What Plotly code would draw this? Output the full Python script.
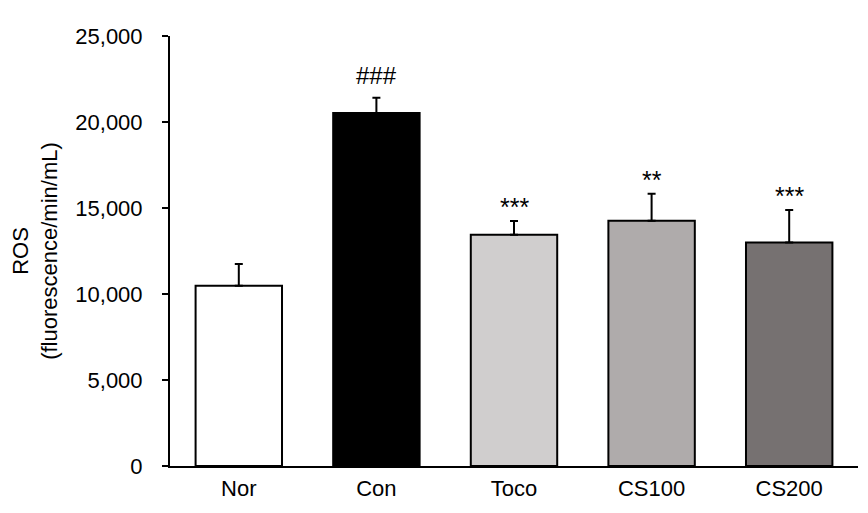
import plotly.graph_objects as go

categories = ["Nor", "Con", "Toco", "CS100", "CS200"]
ros_mean = [10480, 20530, 13450, 14260, 12990]
ros_sem = [1260, 880, 800, 1570, 1900]
sig_labels = ["", "###", "***", "**", "***"]
bar_colors = ["#FFFFFF", "#000000", "#D0CECE", "#AFABAB", "#767171"]
y_ticks = [0, 5000, 10000, 15000, 20000, 25000]

FONT = "Liberation Sans, Arial, sans-serif"

fig = go.Figure()
fig.add_trace(go.Bar(
    x=categories,
    y=ros_mean,
    marker=dict(color=bar_colors, line=dict(color="#000000", width=2)),
    error_y=dict(type="data", array=ros_sem, arrayminus=[0] * len(ros_sem),
                 symmetric=False, color="#000000", thickness=2, width=4),
    showlegend=False,
))

for cat, m, e, lab in zip(categories, ros_mean, ros_sem, sig_labels):
    if lab:
        fig.add_annotation(
            x=cat, y=m + e, text=lab, showarrow=False,
            yanchor="bottom", yshift=7 if lab.startswith("#") else -2,
            font=dict(family=FONT, size=24 if lab.startswith("#") else 25, color="#000000"),
        )

fig.update_layout(
    width=860, height=505,
    margin=dict(l=162, r=10, t=28, b=47),
    paper_bgcolor="#FFFFFF", plot_bgcolor="#FFFFFF",
    bargap=0.372,
    font=dict(family=FONT, size=22, color="#000000"),
    xaxis=dict(
        showline=True, linecolor="#000000", linewidth=2,
        ticks="", showgrid=False, zeroline=False,
        tickfont=dict(size=22), ticklabelstandoff=2,
    ),
    yaxis=dict(
        range=[0, 25000], tickvals=y_ticks, tickformat=",",
        showline=True, linecolor="#000000", linewidth=2,
        ticks="outside", ticklen=6, tickwidth=2, tickcolor="#000000",
        showgrid=False, zeroline=False,
        tickfont=dict(size=22), ticklabelstandoff=15,
        title=dict(text="ROS<br>(fluorescence/min/mL)", font=dict(size=22), standoff=13),
    ),
)

fig.write_html("out.html")
